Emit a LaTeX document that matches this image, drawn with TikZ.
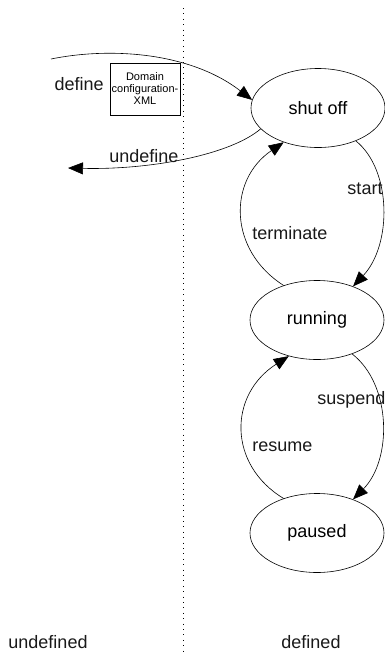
\documentclass[tikz,border=0pt]{standalone}
\usepackage{fontspec}
\setmainfont{Liberation Sans}
\usetikzlibrary{shapes.geometric,arrows.meta}
\begin{document}
\begin{tikzpicture}[x=1pt,y=-1pt,
  state/.style={draw,ellipse,minimum width=134pt,minimum height=79pt,inner sep=0pt,font=\fontsize{18}{21}\selectfont},
  lbl/.style={font=\fontsize{18}{21}\selectfont,inner sep=0pt,text=black!90},
  trans/.style={line width=0.6pt,-{Triangle[length=15pt,width=12pt]}},
  docbox/.style={draw,minimum width=70pt,minimum height=52pt,inner sep=0pt,align=center,font=\fontsize{11}{12}\selectfont},
  line width=0.6pt]
\useasboundingbox (0,0) rectangle (385,654);
% separator
\coordinate (dtop) at (183,8);
\coordinate (dbot) at (183,652);
\draw[line width=0.9pt,dash pattern=on 0.9pt off 4.5pt] (dtop) -- (dbot);
% states
\node[state] (shutoff) at (318,108) {shut off};
\node[state] (running) at (317,320) {running};
\node[state] (paused) at (317,533) {paused};
% define / undefine
\coordinate (defstart) at (51,59);
\coordinate (undefend) at (68,168);
\node[docbox] (xml) at (145,89) {Domain\\configuration-\\XML};
\draw[trans] (defstart) .. controls (110,47) and (190,52) .. (shutoff.173);
\draw[trans] (shutoff.200) .. controls (230,155) and (150,170) .. (undefend);
\node[lbl,anchor=east] (ldef) at (104,84) {define};
\node[lbl,anchor=west] (lundef) at (109,156) {undefine};
% transitions
\draw[trans] (shutoff.-41) .. controls (392,170) and (392,245) .. (running.43);
\draw[trans] (running.134) .. controls (228,250) and (228,180) .. (shutoff.225);
\draw[trans] (running.-44) .. controls (392,385) and (392,460) .. (paused.43);
\draw[trans] (paused.134) .. controls (228,465) and (228,395) .. (running.232);
\node[lbl] (lstart) at (365,189) {start};
\node[lbl,anchor=west] (lterm) at (252,233) {terminate};
\node[lbl,anchor=west] (lsusp) at (317,400) {suspend};
\node[lbl,anchor=west] (lres) at (252,447) {resume};
% region labels
\node[lbl] (lundefined) at (48,642) {undefined};
\node[lbl] (ldefined) at (311,642) {defined};
\end{tikzpicture}
\end{document}
